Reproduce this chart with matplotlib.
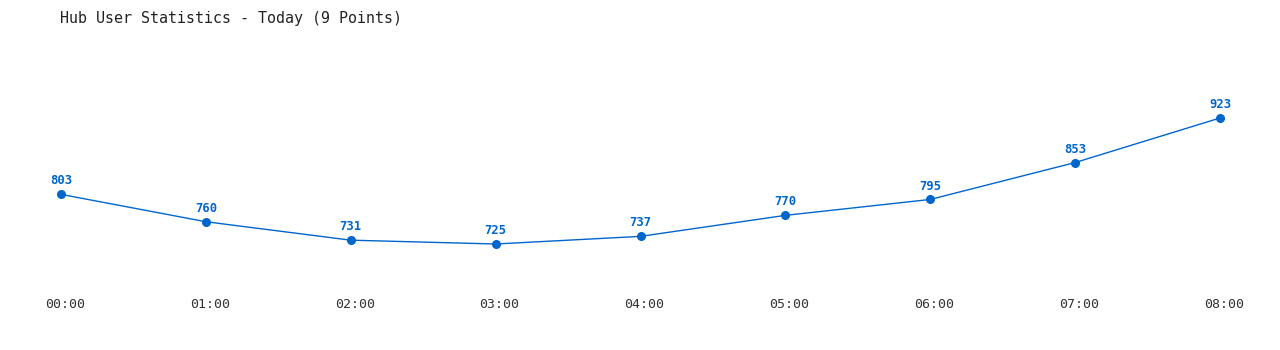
import matplotlib
matplotlib.use("Agg")
import matplotlib.pyplot as plt
from matplotlib.transforms import ScaledTranslation

hours = ["00:00", "01:00", "02:00", "03:00", "04:00", "05:00", "06:00", "07:00", "08:00"]
users = [803, 760, 731, 725, 737, 770, 795, 853, 923]
title = "Hub User Statistics - Today (9 Points)"

W, H = 1280, 350
fig = plt.figure(figsize=(W / 100, H / 100), dpi=100)
# axes pixel box: x 61..1220, y 40..290
x0, x1 = 61, 1220
ytop, ybot = 40, 290
ax = fig.add_axes([x0 / W, 1 - ybot / H, (x1 - x0) / W, (ybot - ytop) / H])
# y mapping: 725 -> 244px, 923 -> 118px
scale = (244 - 118) / (923 - 725)
ymin = 725 - (ybot - 244) / scale
ymax = 923 + (118 - ytop) / scale
ax.set_ylim(ymin, ymax)
ax.set_xlim(0, len(hours) - 1)

color = "#0066cc"
xs = list(range(len(hours)))
ax.plot(xs, users, color=color, lw=1, marker="o", ms=5.5, clip_on=False, zorder=3)
for x, v in zip(xs, users):
    ax.annotate(str(v), (x, v), xytext=(0, 5), textcoords="offset points",
                ha="center", va="bottom", color=color, fontsize=8.8,
                fontweight="bold", family="DejaVu Sans Mono")

for s in ax.spines.values():
    s.set_visible(False)
ax.set_yticks([])
ax.set_xticks(xs)
ax.set_xticklabels(hours, family="DejaVu Sans Mono", fontsize=9.5, color="#333333")
ax.tick_params(axis="x", length=0, pad=6)
off = ScaledTranslation(4 / 100, 0, fig.dpi_scale_trans)
for lbl in ax.get_xticklabels():
    lbl.set_transform(lbl.get_transform() + off)

fig.text(60 / W, 1 - 18 / H, title, ha="left", va="center", family="DejaVu Sans Mono",
         fontsize=10.8, color="#222222")

fig.savefig("out.png", dpi=100, facecolor="white")
